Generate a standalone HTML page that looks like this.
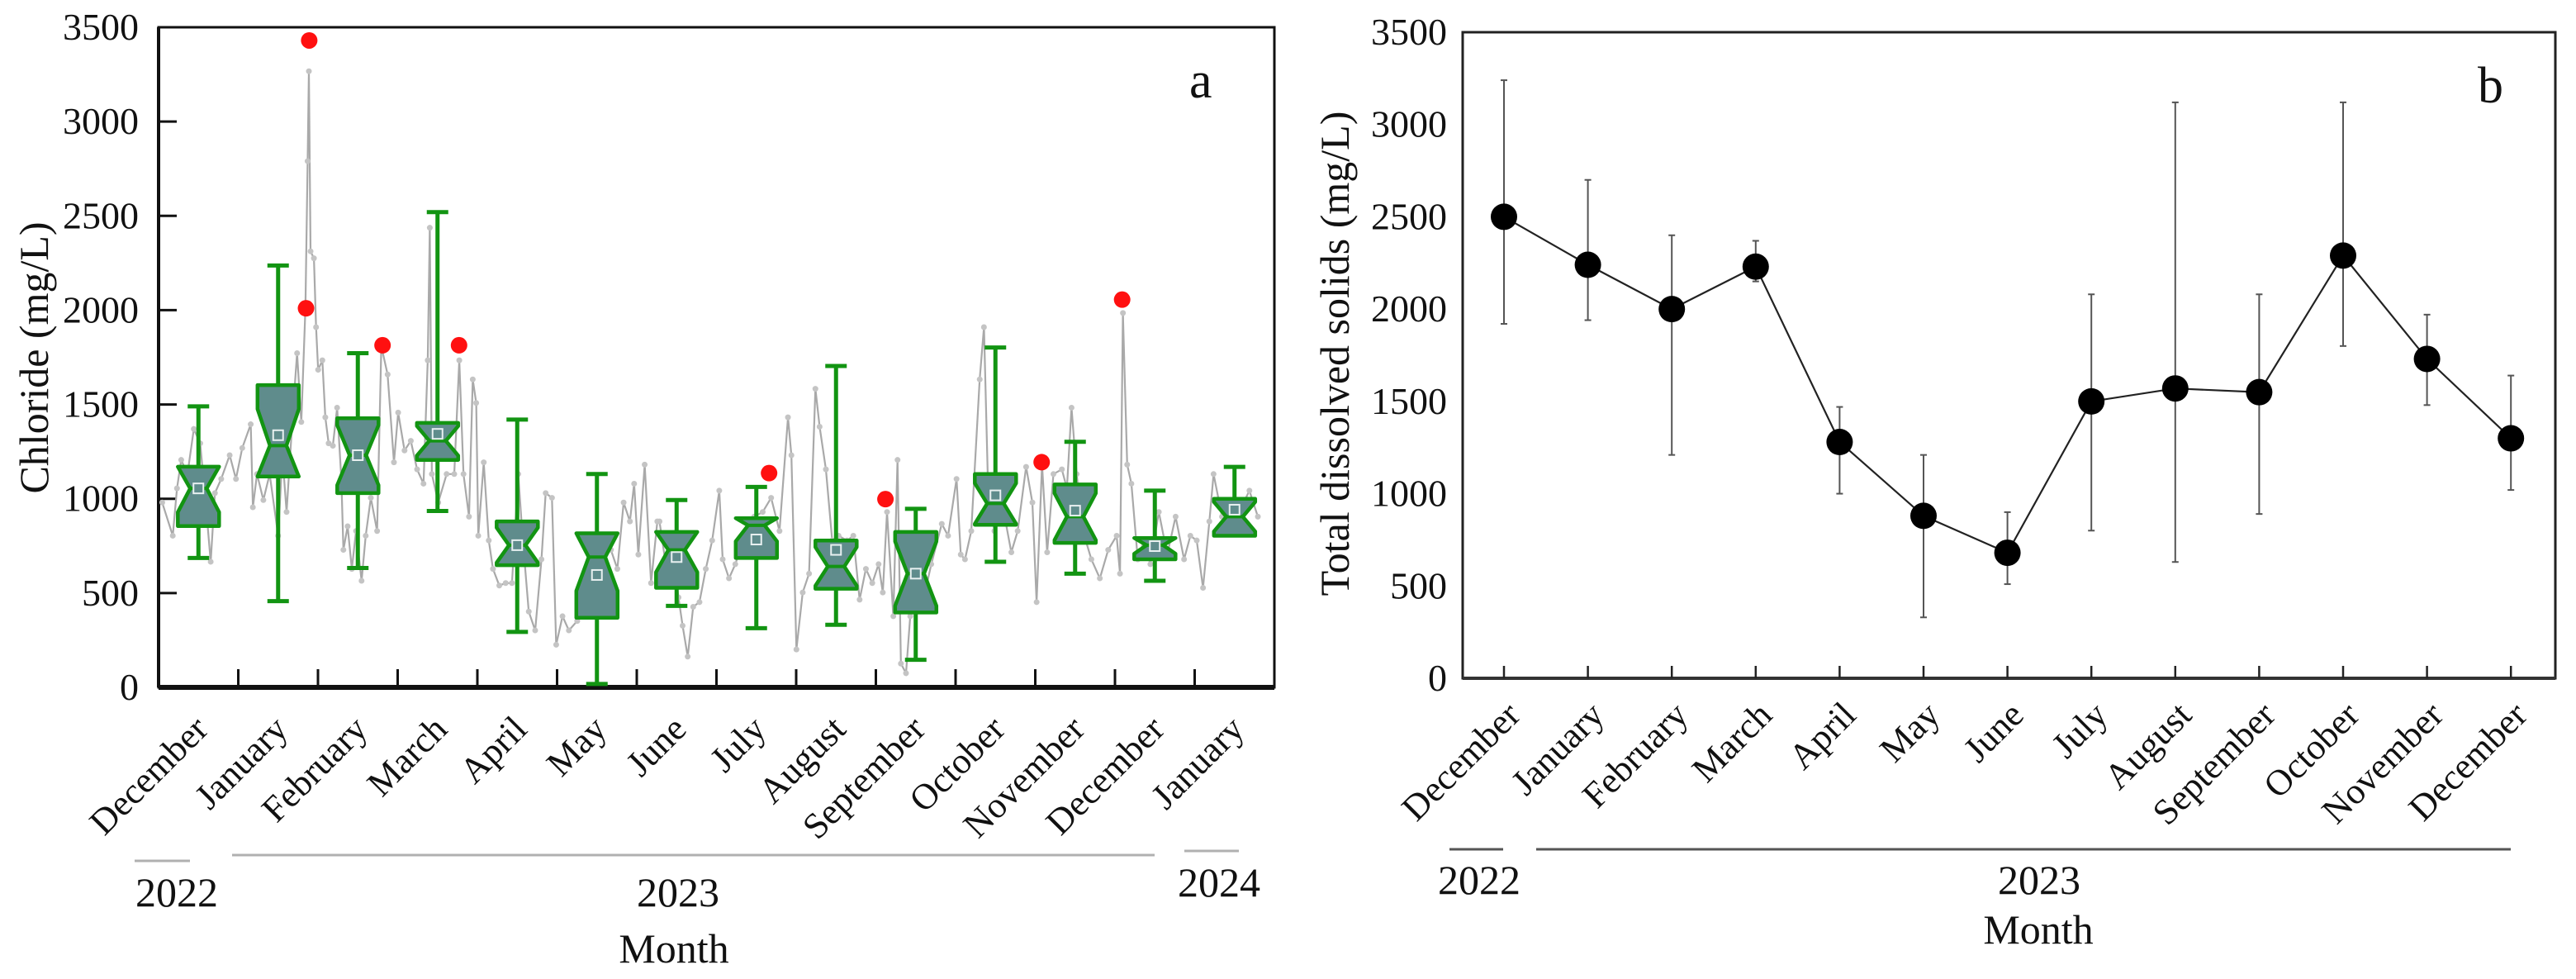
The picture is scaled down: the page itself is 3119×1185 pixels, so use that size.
<!DOCTYPE html>
<html><head><meta charset="utf-8">
<style>
html,body{margin:0;padding:0;background:#fff;}
svg{display:block;font-family:"Liberation Serif",serif;}
</style></head>
<body>
<svg id="chart" width="3119" height="1185" viewBox="0 0 3119 1185" xmlns="http://www.w3.org/2000/svg">
<g id="pa"></g>
<g id="pb"></g>
</svg>
<script>
// ---------- Panel A data ----------
const monthsA = ["December","January","February","March","April","May","June","July","August","September","October","November","December","January"];
const whiskLoA = [686,457,633,935,294,18,432,314,332,146,666,603,565,820];
const q1A      = [855,1118,1030,1206,648,369,528,686,523,397,862,766,679,804];
const medA     = [1055,1282,1231,1307,754,691,729,859,641,603,975,905,754,905];
const q3A      = [1170,1603,1427,1402,880,817,824,897,779,824,1131,1076,792,1000];
const whiskHiA = [1490,2237,1772,2520,1420,1131,993,1063,1704,947,1802,1302,1043,1169];
const meanA    = [1055,1337,1231,1344,754,596,691,784,729,603,1018,937,749,942];
const outlierT = [1.89,1.85,2.81,3.77,7.66,9.12,11.08,12.09];
const outlierV = [3430,2010,1814,1814,1136,998,1194,2056];
// sample times in months since start of December 2022
const seriesT = [0.046,0.178,0.231,0.284,0.363,0.442,0.522,0.601,0.654,0.707,
0.786,0.892,0.971,1.050,1.156,1.183,1.235,1.315,1.394,1.500,
1.553,1.606,1.685,1.738,1.791,1.843,1.870,1.886,1.907,1.949,
1.976,2.002,2.055,2.092,2.134,2.187,2.240,2.293,2.319,2.372,
2.425,2.478,2.547,2.599,2.663,2.742,2.795,2.874,2.953,3.006,
3.086,3.165,3.244,3.324,3.377,3.403,3.429,3.509,3.614,3.710,
3.773,3.826,3.895,3.942,3.985,4.011,4.080,4.143,4.196,4.275,
4.355,4.434,4.513,4.566,4.645,4.725,4.804,4.857,4.936,4.989,
5.068,5.148,5.253,5.359,5.465,5.571,5.676,5.756,5.835,5.914,
5.967,6.020,6.099,6.179,6.258,
6.285,6.364,6.443,6.523,6.575,6.639,6.708,6.787,6.866,6.946,
7.035,7.078,7.157,7.236,7.316,7.395,7.474,7.580,7.686,7.791,
7.897,7.940,8.003,8.082,8.162,8.241,8.294,8.373,8.452,8.532,
8.637,8.717,8.796,8.875,8.955,9.034,9.087,9.140,9.219,9.272,
9.314,9.378,9.431,9.510,9.589,9.695,9.827,9.906,10.012,10.065,
10.118,10.197,10.303,10.356,10.409,10.488,10.594,10.700,10.779,10.885,
10.964,11.017,11.085,11.149,11.228,11.334,11.397,11.455,11.519,11.598,
11.704,11.810,11.915,12.021,12.063,12.100,12.153,12.206,12.286,12.365,
12.444,12.550,12.656,12.761,12.867,12.946,13.026,13.105,13.184,13.237,
13.343,13.449,13.555,13.687,13.793];
const seriesA = [980,804,1055,1206,1131,1370,1294,930,666,1030,1105,1231,1105,1269,1395,955,1131,993,1131,804,1231,930,1457,1772,1407,2010,2790,3267,2312,2275,1910,1684,1734,1432,1294,1281,1483,1105,729,854,628,829,565,804,1005,829,1809,1659,1193,1457,1256,1307,1156,1080,1734,2437,1131,980,1131,1131,1734,1131,905,1633,1508,804,1193,779,628,540,553,553,1131,804,402,302,679,1030,1005,226,377,302,352,415,503,704,729,628,980,880,1080,704,1181,553,880,
880,653,754,477,327,163,427,452,628,779,1043,679,578,653,754,729,905,930,1005,829,1432,1231,201,503,603,1583,1382,1156,779,804,779,804,465,628,553,653,503,930,377,1206,126,75,377,503,452,653,867,804,1105,704,679,829,1633,1910,1030,829,955,716,829,1169,980,452,1181,716,1131,1156,1055,1483,1131,829,679,578,729,804,603,1985,1181,1080,679,779,653,930,704,905,679,804,779,528,880,1131,905,980,930,1043,905];
const yTicksA = [0,500,1000,1500,2000,2500,3000,3500];

// ---------- Panel B data ----------
const monthsB = ["December","January","February","March","April","May","June","July","August","September","October","November","December"];
const meanB = [2500,2240,2000,2230,1280,880,680,1500,1570,1550,2290,1730,1300];
const errLoB = [1920,1940,1210,2150,1000,330,510,800,630,890,1800,1480,1020];
const errHiB = [3240,2700,2400,2370,1470,1210,900,2080,3120,2080,3120,1970,1640];
const yTicksB = [0,500,1000,1500,2000,2500,3000,3500];

const NS="http://www.w3.org/2000/svg";
function mk(parent,tag,attrs,text){const e=document.createElementNS(NS,tag);for(const k in attrs)e.setAttribute(k,attrs[k]);if(text!==undefined)e.textContent=text;parent.appendChild(e);return e;}

// ---------- Panel A ----------
(function(){
 const g=document.getElementById('pa');
 const L=192,R=1543,T=33,B=832,step=96.5;
 const y=v=>B-v*(B-T)/3500;
 const xt=t=>L+t*step;
 const xc=i=>L+(i+0.5)*step;
 let e=mk(g,'rect',{x:L,y:T,width:R-L,height:B-T,fill:'none',stroke:'#111','stroke-width':3});
 
 e=mk(g,'line',{x1:L,y1:B,x2:R,y2:B,stroke:'#111','stroke-width':6});
 
 e=mk(g,'line',{x1:L,y1:T,x2:L,y2:B,stroke:'#111','stroke-width':4});
 
 yTicksA.forEach(v=>{
  const t=mk(g,'line',{x1:L,y1:y(v),x2:L+22,y2:y(v),stroke:'#111','stroke-width':3});
  
  const l=mk(g,'text',{x:168,y:y(v)+15,'text-anchor':'end','font-size':46,fill:'#111'},String(v));
  
 });
 for(let i=1;i<monthsA.length;i++){
  const t=mk(g,'line',{x1:xt(i),y1:B,x2:xt(i),y2:B-22,stroke:'#111','stroke-width':3});
  
 }
 let d=seriesA.map((v,k)=>(k?'L':'M')+xt(seriesT[k]).toFixed(1)+','+y(v).toFixed(1)).join(' ');
 e=mk(g,'path',{d:d,fill:'none',stroke:'#a9a9a9','stroke-width':2.2});
 
 seriesA.forEach((v,k)=>{
  const c=mk(g,'circle',{cx:xt(seriesT[k]),cy:y(v),r:3.5,fill:'#c4c4c4'});
  
 });
 const hw=25, nw=10, cap=13;
 monthsA.forEach((m,i)=>{
  const bx=mk(g,'g',{});
  
  const cx=xc(i);
  const iqr=q3A[i]-q1A[i];
  const nt=Math.min(q3A[i],medA[i]+0.4*iqr), nb=Math.max(q1A[i],medA[i]-0.4*iqr);
  mk(bx,'line',{x1:cx,y1:y(q3A[i]),x2:cx,y2:y(whiskHiA[i]),stroke:'#129412','stroke-width':5});
  mk(bx,'line',{x1:cx,y1:y(q1A[i]),x2:cx,y2:y(whiskLoA[i]),stroke:'#129412','stroke-width':5});
  mk(bx,'line',{x1:cx-cap,y1:y(whiskHiA[i]),x2:cx+cap,y2:y(whiskHiA[i]),stroke:'#129412','stroke-width':5});
  mk(bx,'line',{x1:cx-cap,y1:y(whiskLoA[i]),x2:cx+cap,y2:y(whiskLoA[i]),stroke:'#129412','stroke-width':5});
  const pts=[[cx-hw,y(q3A[i])],[cx+hw,y(q3A[i])],[cx+hw,y(nt)],[cx+nw,y(medA[i])],[cx+hw,y(nb)],[cx+hw,y(q1A[i])],[cx-hw,y(q1A[i])],[cx-hw,y(nb)],[cx-nw,y(medA[i])],[cx-hw,y(nt)]];
  mk(bx,'polygon',{points:pts.map(p=>p[0].toFixed(1)+','+p[1].toFixed(1)).join(' '),fill:'#5f8c8c',stroke:'#129412','stroke-width':4.5,'stroke-linejoin':'round'});
  mk(bx,'line',{x1:cx-nw,y1:y(medA[i]),x2:cx+nw,y2:y(medA[i]),stroke:'#129412','stroke-width':4});
  mk(bx,'rect',{x:cx-6,y:y(meanA[i])-6,width:12,height:12,fill:'#5f8c8c',stroke:'#e8f0f0','stroke-width':2});
 });
 outlierT.forEach((t,k)=>{
  const c=mk(g,'circle',{cx:xt(t),cy:y(outlierV[k]),r:10,fill:'#ff1010'});
  
 });
 e=mk(g,'text',{x:1440,y:118,'font-size':62,fill:'#111'},'a');
 
 e=mk(g,'text',{x:0,y:0,'font-size':50,fill:'#111','text-anchor':'middle',transform:'translate(58,433) rotate(-90)'},'Chloride (mg/L)');
 
 monthsA.forEach((m,i)=>{
  const ax=xc(i)+14, ay=885;
  const l=mk(g,'text',{x:0,y:0,'font-size':44,fill:'#111','text-anchor':'end',transform:'translate('+ax+','+ay+') rotate(-45)'},m);
  
 });
 [[163,230,1042],[281,1398,1035],[1434,1500,1030]].forEach(s=>{
  const l=mk(g,'line',{x1:s[0],y1:s[2],x2:s[1],y2:s[2],stroke:'#b0b0b0','stroke-width':3});
  
 });
 [['2022',214,1097],['2023',821,1097],['2024',1476,1085]].forEach(s=>{
  const l=mk(g,'text',{x:s[1],y:s[2],'font-size':50,fill:'#111','text-anchor':'middle'},s[0]);
  
 });
 e=mk(g,'text',{x:816,y:1165,'font-size':50,fill:'#111','text-anchor':'middle'},'Month');
 
})();

// ---------- Panel B ----------
(function(){
 const g=document.getElementById('pb');
 const L=1771,R=3094,T=39,B=821,x0=1821,step=101.6;
 const y=v=>B-v*(B-T)/3500;
 const x=i=>x0+i*step;
 let e=mk(g,'rect',{x:L,y:T,width:R-L,height:B-T,fill:'none',stroke:'#222','stroke-width':3});
 
 e=mk(g,'line',{x1:L,y1:B,x2:R,y2:B,stroke:'#333','stroke-width':4});
 
 yTicksB.forEach(v=>{
  const l=mk(g,'text',{x:1752,y:y(v)+15,'text-anchor':'end','font-size':46,fill:'#111'},String(v));
  
 });
 monthsB.forEach((m,i)=>{
  const t=mk(g,'line',{x1:x(i),y1:B,x2:x(i),y2:B-15,stroke:'#222','stroke-width':2.5});
  
  const l=mk(g,'text',{x:0,y:0,'font-size':44,fill:'#111','text-anchor':'end',transform:'translate('+(x(i)+22)+',868) rotate(-45)'},m);
  
 });
 monthsB.forEach((m,i)=>{
  const eb=mk(g,'g',{});
  
  mk(eb,'line',{x1:x(i),y1:y(errLoB[i]),x2:x(i),y2:y(errHiB[i]),stroke:'#555','stroke-width':2});
  mk(eb,'line',{x1:x(i)-4,y1:y(errLoB[i]),x2:x(i)+4,y2:y(errLoB[i]),stroke:'#555','stroke-width':2});
  mk(eb,'line',{x1:x(i)-4,y1:y(errHiB[i]),x2:x(i)+4,y2:y(errHiB[i]),stroke:'#555','stroke-width':2});
 });
 let d=meanB.map((v,i)=>(i?'L':'M')+x(i).toFixed(1)+','+y(v).toFixed(1)).join(' ');
 e=mk(g,'path',{d:d,fill:'none',stroke:'#222','stroke-width':2.2});
 
 meanB.forEach((v,i)=>{
  const c=mk(g,'circle',{cx:x(i),cy:y(v),r:16,fill:'#000'});
  
 });
 e=mk(g,'text',{x:3000,y:124,'font-size':62,fill:'#111'},'b');
 
 e=mk(g,'text',{x:0,y:0,'font-size':50,fill:'#111','text-anchor':'middle',transform:'translate(1633,428) rotate(-90)'},'Total dissolved solids (mg/L)');
 
 [[1755,1820],[1860,3040]].forEach(s=>{
  const l=mk(g,'line',{x1:s[0],y1:1028,x2:s[1],y2:1028,stroke:'#555','stroke-width':3});
  
 });
 [['2022',1791],['2023',2469]].forEach(s=>{
  const l=mk(g,'text',{x:s[1],y:1082,'font-size':50,fill:'#111','text-anchor':'middle'},s[0]);
  
 });
 e=mk(g,'text',{x:2468,y:1142,'font-size':50,fill:'#111','text-anchor':'middle'},'Month');
 
})();
</script>
</body></html>
